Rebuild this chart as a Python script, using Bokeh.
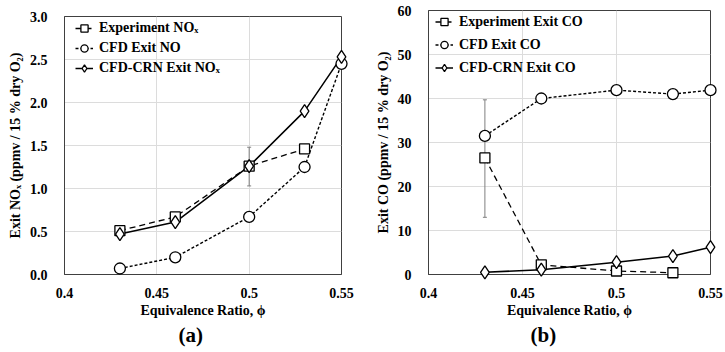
from bokeh.plotting import figure
from bokeh.layouts import row, column
from bokeh.models import (ColumnDataSource, Whisker, FixedTicker, Title, Legend,
                          LegendItem, NumeralTickFormatter)
from bokeh.embed import file_html
from bokeh.resources import INLINE

# ---------------- data ----------------
phi = [0.43, 0.46, 0.50, 0.53, 0.55]
phi_exp = [0.43, 0.46, 0.50, 0.53]

exp_nox = [0.51, 0.67, 1.26, 1.46]
cfd_no = [0.07, 0.20, 0.67, 1.25, 2.45]
crn_nox = [0.47, 0.61, 1.26, 1.90, 2.53]
nox_err_x = [0.50]
nox_err_lo = [1.03]
nox_err_hi = [1.48]

exp_co = [26.5, 2.2, 0.8, 0.4]
cfd_co = [31.5, 40.0, 41.9, 41.0, 41.9]
crn_co = [0.5, 1.1, 2.8, 4.2, 6.2]
co_err_x = [0.43]
co_err_lo = [13.0]
co_err_hi = [39.7]

x_ticks = [0.4, 0.45, 0.5, 0.55]
x_tick_labels = ["0.4", "0.45", "0.5", "0.55"]
y_ticks_a = [0.0, 0.5, 1.0, 1.5, 2.0, 2.5, 3.0]
y_ticks_b = [0, 10, 20, 30, 40, 50, 60]

labels_a = ["Experiment NOₓ", "CFD Exit NO", "CFD-CRN Exit NOₓ"]
labels_b = ["Experiment Exit CO", "CFD Exit CO", "CFD-CRN Exit CO"]

FONT = "Liberation Serif"
FRAME = "#404040"


def make_panel(y_exp, y_cfd, y_crn, err_x, err_lo, err_hi, y_end, y_ticks, y_fmt,
               ylabel, labels, tag, fw, fh, bl, bt, br, bb, leg_x, leg_top, row_h, tag_off):
    p = figure(frame_width=fw, frame_height=fh, x_range=(0.4, 0.55), y_range=(0, y_end),
               output_backend="svg", toolbar_location=None, title=None,
               min_border_left=bl, min_border_top=bt, min_border_right=br, min_border_bottom=bb)
    p.background_fill_color = "white"
    p.outline_line_color = FRAME
    p.outline_line_width = 1
    for ax in (p.xaxis[0], p.yaxis[0]):
        ax.axis_line_color = FRAME
        ax.major_tick_line_color = None
        ax.minor_tick_line_color = None
        ax.major_label_text_font = FONT
        ax.major_label_text_font_style = "bold"
        ax.major_label_text_font_size = "14px"
        ax.major_label_text_color = "black"
        ax.axis_label_text_font = FONT
        ax.axis_label_text_font_style = "bold"
        ax.axis_label_text_font_size = "14px"
        ax.axis_label_text_color = "black"
    p.xaxis.ticker = FixedTicker(ticks=x_ticks)
    p.xaxis.major_label_overrides = {t: l for t, l in zip(x_ticks, x_tick_labels)}
    p.yaxis.ticker = FixedTicker(ticks=y_ticks)
    p.yaxis.formatter = NumeralTickFormatter(format=y_fmt)
    p.xaxis.axis_label = "Equivalence Ratio, ϕ"
    p.yaxis.axis_label = ylabel
    p.xaxis.major_label_standoff = 7
    p.xaxis.axis_label_standoff = 2
    p.yaxis.major_label_standoff = 11
    p.yaxis.axis_label_standoff = 4
    p.xgrid.ticker = FixedTicker(ticks=x_ticks)
    p.ygrid.ticker = FixedTicker(ticks=y_ticks)
    p.xgrid.grid_line_color = "#dcdcdc"
    p.ygrid.grid_line_color = "#dcdcdc"

    # error bar
    esrc = ColumnDataSource(dict(x=err_x, lo=err_lo, hi=err_hi))
    wk = Whisker(source=esrc, base="x", lower="lo", upper="hi", line_color="#7f7f7f",
                 line_width=1, level="glyph")
    wk.upper_head.size = 4
    wk.lower_head.size = 4
    wk.upper_head.line_color = "#7f7f7f"
    wk.lower_head.line_color = "#7f7f7f"
    p.add_layout(wk)

    l1 = p.line(phi_exp, y_exp, line_color="black", line_width=1.3, line_dash="6 4")
    s1 = p.scatter(phi_exp, y_exp, marker="square", size=10, fill_color="white",
                   line_color="black", line_width=1.3, level="overlay")
    l2 = p.line(phi, y_cfd, line_color="black", line_width=1.4, line_dash="3 2")
    s2 = p.scatter(phi, y_cfd, marker="circle", size=11, fill_color="white",
                   line_color="black", line_width=1.3, level="overlay")
    l3 = p.line(phi, y_crn, line_color="black", line_width=1.5)
    s3 = p.scatter(phi, y_crn, marker="diamond", size=13, fill_color="white",
                   line_color="black", line_width=1.3, level="overlay")

    legend = Legend(items=[LegendItem(label=labels[0], renderers=[l1, s1]),
                           LegendItem(label=labels[1], renderers=[l2, s2]),
                           LegendItem(label=labels[2], renderers=[l3, s3])],
                    location=(leg_x, fh - leg_top - 3 * row_h), background_fill_alpha=0,
                    border_line_color=None,
                    label_text_font=FONT, label_text_font_style="bold",
                    label_text_font_size="14px", label_text_color="black",
                    glyph_width=18, glyph_height=row_h, spacing=0, padding=0, margin=0,
                    label_standoff=6, label_height=row_h)
    p.add_layout(legend)

    p.add_layout(Title(text=tag, align="left", text_font=FONT, text_font_style="bold",
                       text_font_size="21px", text_color="black", standoff=0,
                       offset=tag_off), "below")
    return p


pa = make_panel(exp_nox, cfd_no, crn_nox, nox_err_x, nox_err_lo, nox_err_hi, 3.0, y_ticks_a,
                "0.0", "Exit NOₓ (ppmv / 15 % dry O₂)", labels_a, "(a)",
                277, 258, 64, 16, 19, 78, 11, 2, 20, 114)
pb = make_panel(exp_co, cfd_co, crn_co, co_err_x, co_err_lo, co_err_hi, 60, y_ticks_b,
                "0", "Exit CO (ppmv / 15 % dry O₂)", labels_b, "(b)",
                282, 264, 68, 10, 15, 78, 7, 0, 23, 102)

layout = row(column(pa), column(pb))
open("out.html", "w").write(file_html(layout, INLINE))
